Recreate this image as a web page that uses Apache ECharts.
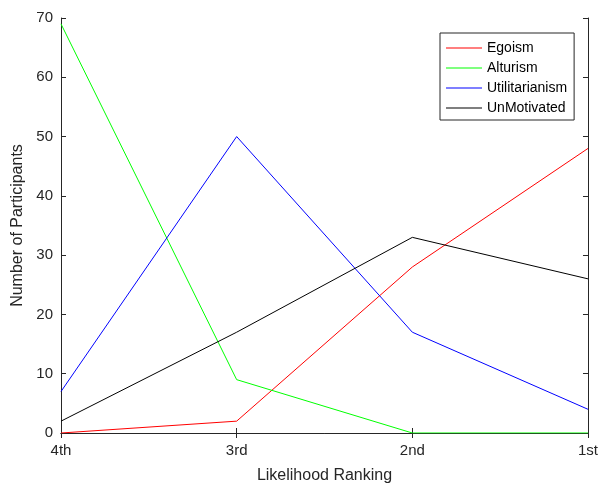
<!DOCTYPE html>
<html>
<head>
<meta charset="utf-8">
<style>
  html, body { margin: 0; padding: 0; background: #fff; overflow: hidden; }
  #chart { width: 601px; height: 489px; }
</style>
<script src="https://cdn.jsdelivr.net/npm/echarts@6/dist/echarts.min.js"></script>
</head>
<body>
<div id="chart"></div>
<script>
// Participants' likelihood ranking for each motivation
const rankings = ['4th', '3rd', '2nd', '1st'];
const egoism = [0, 2, 28, 48];
const alturism = [69, 9, 0, 0];
const utilitarianism = [7, 50, 17, 4];
const unMotivated = [2, 17, 33, 26];
const yTicks = { min: 0, max: 70, interval: 10 };

const font = 'Liberation Sans, Arial, Helvetica, sans-serif';
const axisColor = '#262626';

function lineSeries(name, data, color) {
  return {
    name: name,
    type: 'line',
    data: data,
    symbol: 'none',
    lineStyle: { color: color, width: 1 },
    itemStyle: { color: color },
    emphasis: { disabled: true },
    animation: false
  };
}

const chart = echarts.init(document.getElementById('chart'));
chart.setOption({
  animation: false,
  grid: { left: 61, right: 11, top: 18, bottom: 53 },
  legend: {
    orient: 'vertical',
    left: 440,
    top: 33,
    padding: [8, 7, 5, 6],
    itemGap: 6,
    itemWidth: 36,
    itemHeight: 14,
    icon: 'path://M0,0H36V1H0Z',
    borderColor: axisColor,
    borderWidth: 1,
    backgroundColor: '#fff',
    textStyle: { fontFamily: font, fontSize: 14, color: '#000' },
    data: ['Egoism', 'Alturism', 'Utilitarianism', 'UnMotivated']
  },
  xAxis: [{
    type: 'category',
    data: rankings,
    boundaryGap: false,
    name: 'Likelihood Ranking',
    nameLocation: 'middle',
    nameGap: 35,
    nameTextStyle: { fontFamily: font, fontSize: 16, color: axisColor },
    axisLine: { lineStyle: { color: axisColor, width: 1 } },
    axisTick: { inside: true, length: 5, lineStyle: { color: axisColor } },
    axisLabel: { fontFamily: font, fontSize: 15, color: axisColor, margin: 10 },
    splitLine: { show: false }
  }, {
    type: 'category',
    data: rankings,
    boundaryGap: false,
    position: 'top',
    axisLine: { lineStyle: { color: axisColor, width: 1 } },
    axisTick: { inside: true, length: 5, lineStyle: { color: axisColor } },
    axisLabel: { show: false },
    splitLine: { show: false }
  }],
  yAxis: [{
    type: 'value',
    min: yTicks.min,
    max: yTicks.max,
    interval: yTicks.interval,
    name: 'Number of Participants',
    nameLocation: 'middle',
    nameGap: 33,
    nameTextStyle: { fontFamily: font, fontSize: 16, color: axisColor },
    axisLine: { show: true, lineStyle: { color: axisColor, width: 1 } },
    axisTick: { show: true, inside: true, length: 5, lineStyle: { color: axisColor } },
    axisLabel: { fontFamily: font, fontSize: 15, color: axisColor, margin: 8 },
    splitLine: { show: false }
  }, {
    type: 'value',
    min: yTicks.min,
    max: yTicks.max,
    interval: yTicks.interval,
    position: 'right',
    axisLine: { show: true, lineStyle: { color: axisColor, width: 1 } },
    axisTick: { show: true, inside: true, length: 5, lineStyle: { color: axisColor } },
    axisLabel: { show: false },
    splitLine: { show: false }
  }],
  series: [
    lineSeries('Egoism', egoism, '#ff0000'),
    lineSeries('Alturism', alturism, '#00ff00'),
    lineSeries('Utilitarianism', utilitarianism, '#0000ff'),
    lineSeries('UnMotivated', unMotivated, '#000000')
  ]
});
</script>
</body>
</html>
